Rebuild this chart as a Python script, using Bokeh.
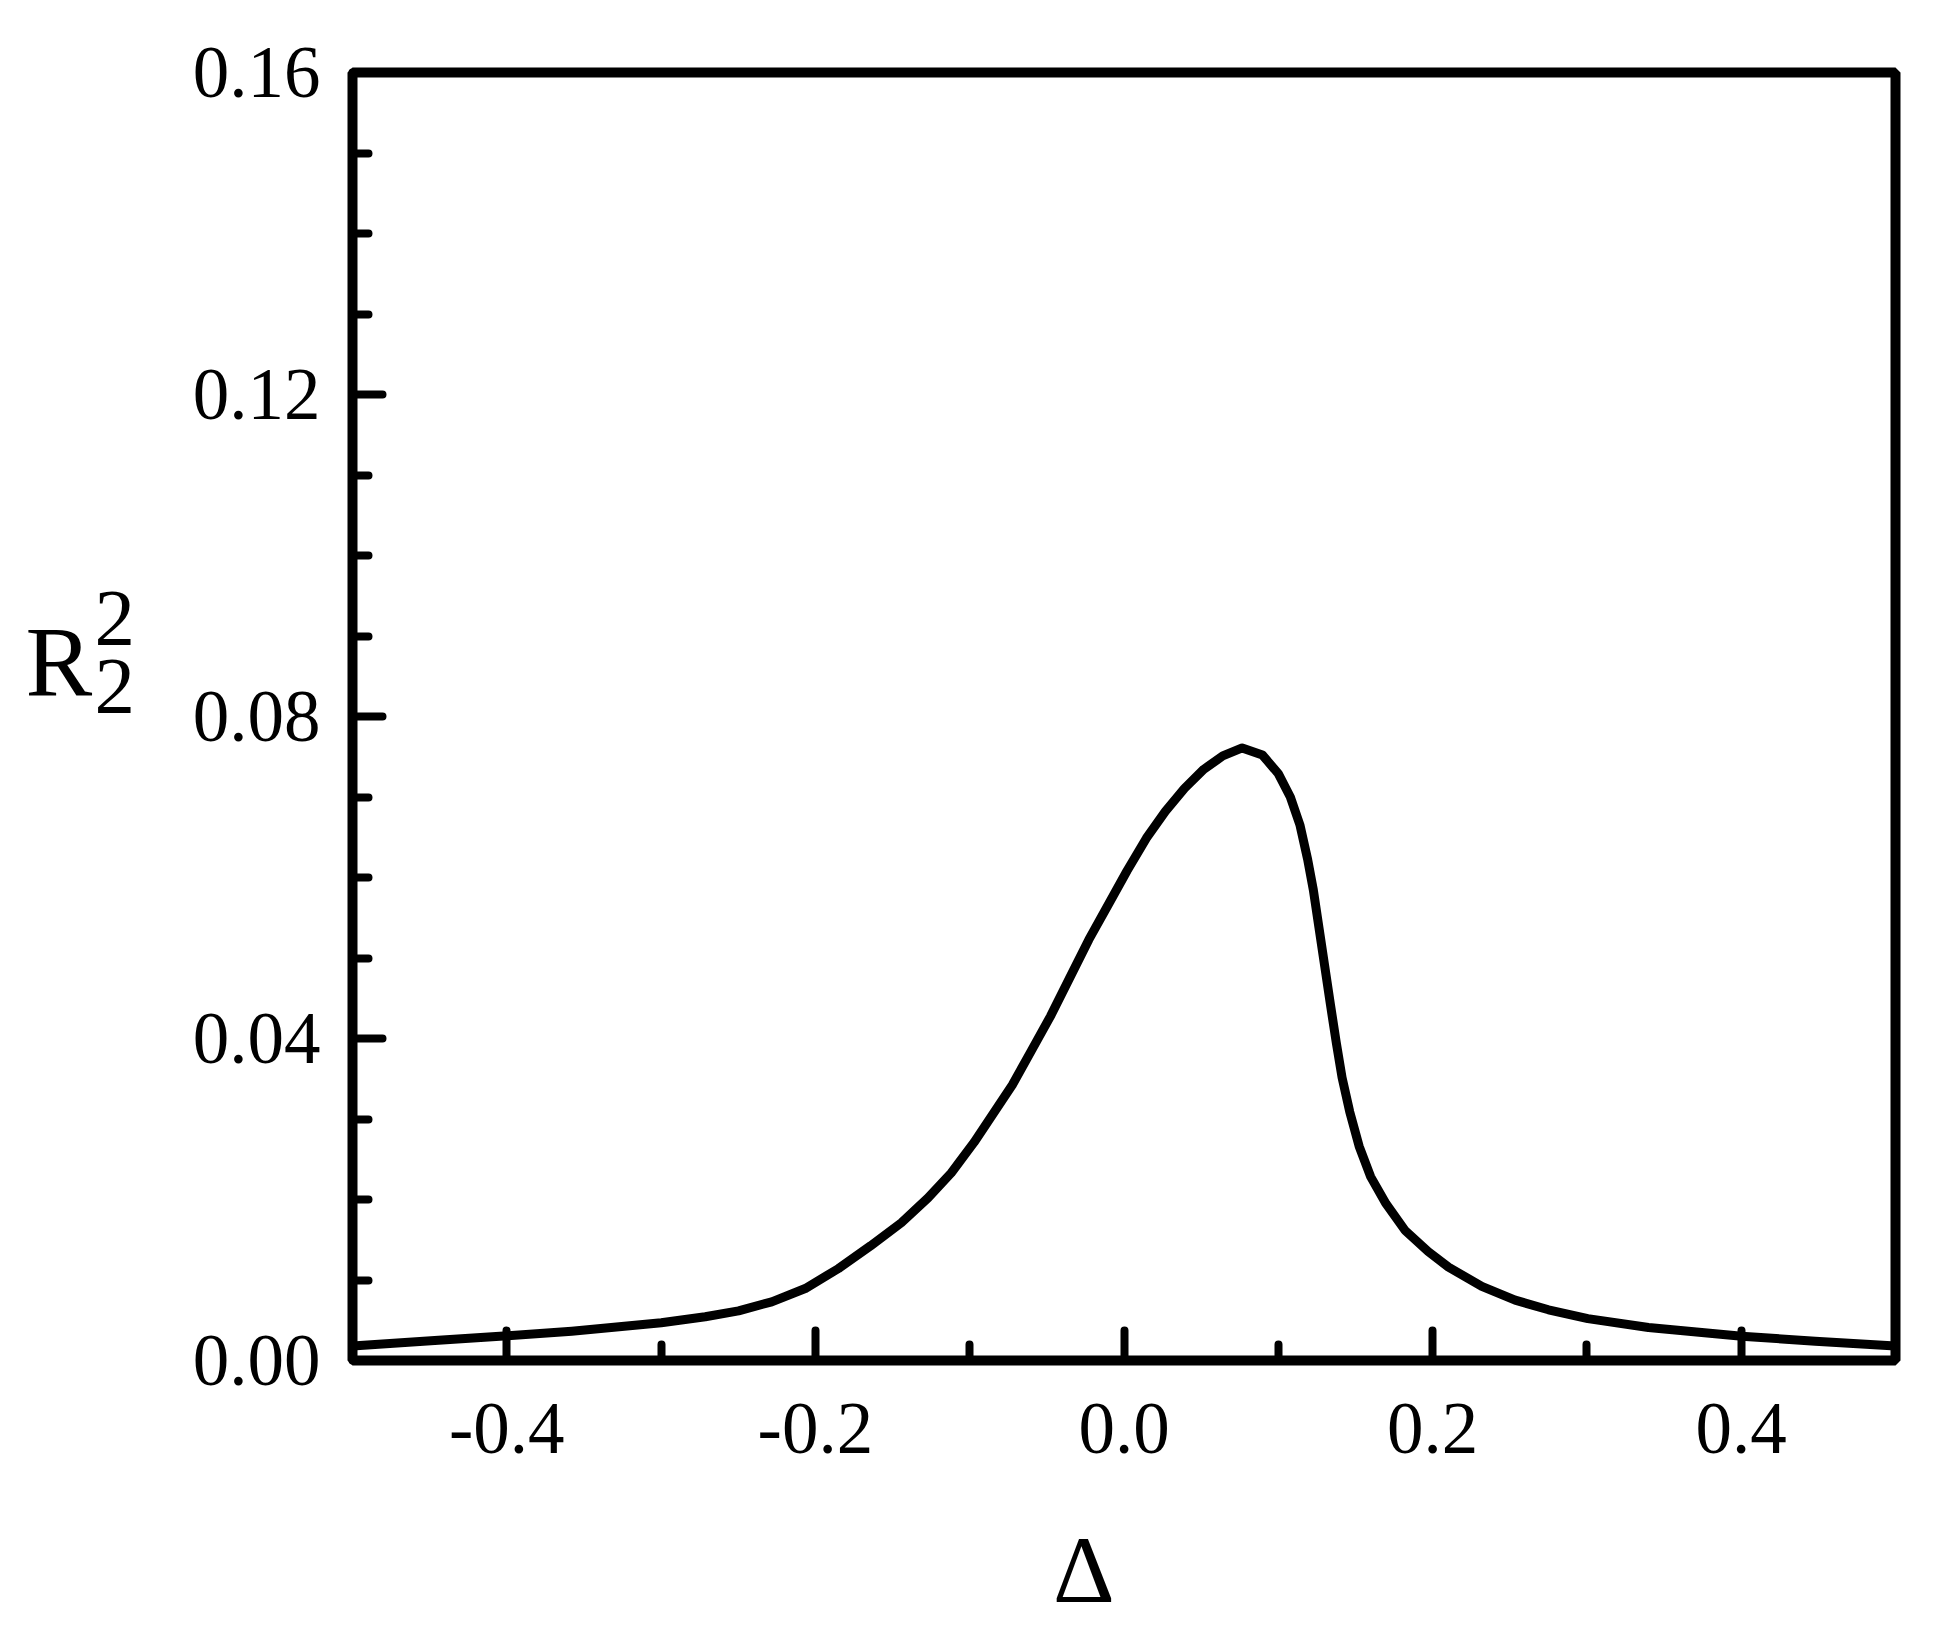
from bokeh.plotting import figure
from bokeh.models import FixedTicker, CustomJSTickFormatter, Range1d
from bokeh.layouts import row, column
from bokeh.core.properties import value
from bokeh.embed import file_html
from bokeh.resources import INLINE

# ---- data ----
delta = [-0.5, -0.4443, -0.3995, -0.3579, -0.2999, -0.2714, -0.2498, -0.2283, -0.2066,
         -0.1850, -0.1642, -0.1443, -0.1270, -0.1120, -0.0972, -0.0848, -0.0724, -0.0600,
         -0.0476, -0.0352, -0.0228, -0.0104, 0.0020, 0.0145, 0.0268, 0.0392, 0.0517,
         0.0640, 0.0766, 0.0897, 0.1000, 0.1078, 0.1140, 0.1190, 0.1227, 0.1264, 0.1301,
         0.1338, 0.1376, 0.1413, 0.1463, 0.1524, 0.1599, 0.1698, 0.1822, 0.1971, 0.2103,
         0.2319, 0.2535, 0.2751, 0.3006, 0.3399, 0.4004, 0.4480, 0.5]
r22 = [0.00180, 0.00252, 0.00307, 0.00364, 0.00468, 0.00543, 0.00617, 0.00729, 0.00894,
       0.01143, 0.01425, 0.01711, 0.02020, 0.02329, 0.02709, 0.03066, 0.03422, 0.03850,
       0.04278, 0.04753, 0.05228, 0.05656, 0.06084, 0.06488, 0.06821, 0.07107, 0.07344,
       0.07510, 0.07610, 0.07522, 0.07290, 0.07000, 0.06654, 0.06227, 0.05846, 0.05371, 0.04896,
       0.04420, 0.03945, 0.03517, 0.03089, 0.02661, 0.02281, 0.01948, 0.01615, 0.01354, 0.01160,
       0.00920, 0.00750, 0.00630, 0.00520, 0.00410, 0.00300, 0.00240, 0.00180]

x_ticks = [-0.4, -0.2, 0.0, 0.2, 0.4]
x_labels = ["-0.4", "-0.2", "0.0", "0.2", "0.4"]
x_minor = [-0.3, -0.1, 0.1, 0.3]
y_ticks = [0.0, 0.04, 0.08, 0.12, 0.16]
y_labels = ["0.00", "0.04", "0.08", "0.12", "0.16"]
y_minor = [0.01, 0.02, 0.03, 0.05, 0.06, 0.07, 0.09, 0.10, 0.11, 0.13, 0.14, 0.15]

x_title = "Δ"
y_title_main = "R"
y_title_sup = "2"
y_title_sub = "2"

FONT = "Liberation Serif"

# ---- main plot ----
p = figure(frame_width=1543, frame_height=1288,
           x_range=(-0.5, 0.5), y_range=(0.0, 0.16),
           output_backend="svg", toolbar_location=None,
           min_border_left=192, min_border_right=37,
           min_border_top=72, min_border_bottom=140)

p.background_fill_color = "white"
p.border_fill_color = "white"
p.outline_line_color = "black"
p.outline_line_width = 10
p.grid.visible = False

fmt_code = """
const i = tk.findIndex(t => Math.abs(t - tick) < 1e-9);
return i >= 0 ? lb[i] : '';
"""

p.xaxis.ticker = FixedTicker(ticks=x_ticks, minor_ticks=x_minor)
p.xaxis.formatter = CustomJSTickFormatter(args=dict(tk=x_ticks, lb=x_labels), code=fmt_code)
p.yaxis.ticker = FixedTicker(ticks=y_ticks, minor_ticks=y_minor)
p.yaxis.formatter = CustomJSTickFormatter(args=dict(tk=y_ticks, lb=y_labels), code=fmt_code)

for ax in (p.xaxis, p.yaxis):
    ax.axis_line_color = None
    ax.major_tick_in = 30
    ax.major_tick_out = 0
    ax.minor_tick_in = 16
    ax.minor_tick_out = 0
    ax.major_tick_line_width = 8
    ax.minor_tick_line_width = 8
    ax.major_tick_line_color = "black"
    ax.minor_tick_line_color = "black"
    ax.major_tick_line_cap = "round"
    ax.minor_tick_line_cap = "round"
    ax.major_label_text_font = FONT
    ax.major_label_text_font_size = "73px"
    ax.major_label_text_color = "black"

p.xaxis.major_label_standoff = 43
p.yaxis.major_label_standoff = 32

p.line(delta, r22, line_color="black", line_width=9, line_join="round")


def text_panel(w, h):
    f = figure(width=w, height=h, x_range=Range1d(0, w), y_range=Range1d(h, 0),
               output_backend="svg", toolbar_location=None,
               x_axis_type=None, y_axis_type=None,
               min_border=0, min_border_left=0, min_border_right=0,
               min_border_top=0, min_border_bottom=0)
    f.outline_line_color = None
    f.grid.visible = False
    f.background_fill_color = "white"
    f.border_fill_color = "white"
    return f


# ---- y-axis title panel: R with stacked sub/superscript 2 ----
left = text_panel(160, 1632)
left.text(x=[25], y=[661], text=[y_title_main], text_font=value(FONT),
          text_font_size=value("100px"), text_color="black",
          text_align="left", text_baseline="alphabetic")
left.text(x=[94, 94], y=[618, 686], text=[y_title_sup, y_title_sub], text_font=value(FONT),
          text_font_size=value("81px"), text_color="black",
          text_align="left", text_baseline="alphabetic")

# ---- x-axis title panel: Δ ----
bottom = text_panel(1772, 132)
bottom.text(x=[840], y=[69], text=[x_title], text_font=value(FONT),
            text_font_size=value("96px"), text_color="black",
            text_align="center", text_baseline="alphabetic")

layout = row(left, column(p, bottom, spacing=0), spacing=0)

open("out.html", "w").write(file_html(layout, INLINE))
